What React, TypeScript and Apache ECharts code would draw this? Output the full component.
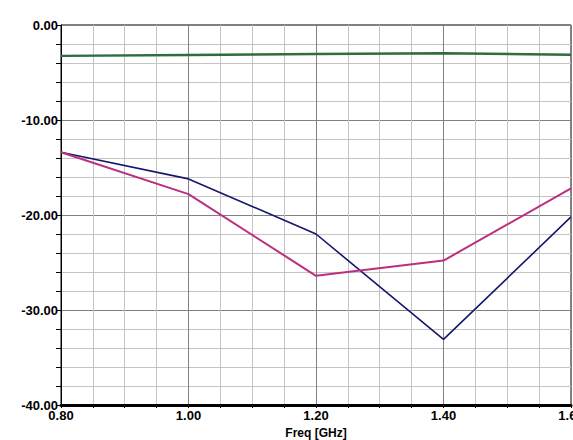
import React, { useEffect, useRef } from "react";
import * as echarts from "echarts";

const freqs = [0.8, 1.0, 1.2, 1.4, 1.6];
const greenValues = [-3.25, -3.15, -3.05, -2.97, -3.13];
const blueValues = [-13.4, -16.2, -22.0, -33.1, -20.2];
const magentaValues = [-13.4, -17.8, -26.4, -24.8, -17.2];

const pairs = (ys: number[]) => freqs.map((f, i) => [f, ys[i]]);

export default function App() {
  const ref = useRef<HTMLDivElement>(null);
  useEffect(() => {
    if (!ref.current) return;
    const chart = echarts.init(ref.current, undefined, { renderer: "svg" });
    const labelFont = {
      fontFamily: "Liberation Sans, Arial, sans-serif",
      fontWeight: "bold" as const,
      fontSize: 13,
      color: "#000",
    };
    chart.setOption({
      animation: false,
      backgroundColor: "#fff",
      grid: {
        left: 61,
        top: 25,
        right: 2,
        bottom: 35,
        containLabel: false,
        outerBoundsMode: "none",
        show: true,
        borderColor: "#000",
        borderWidth: 1,
        backgroundColor: "#fff",
      },
      xAxis: {
        type: "value",
        min: 0.8,
        max: 1.6,
        interval: 0.2,
        name: "Freq [GHz]",
        nameLocation: "middle",
        nameGap: 20,
        nameTextStyle: { ...labelFont, fontSize: 12 },
        axisLine: { show: true, onZero: false, lineStyle: { color: "#000", width: 3 } },
        axisTick: { show: true, length: 3, lineStyle: { color: "#000" } },
        minorTick: { show: true, splitNumber: 4, length: 3, lineStyle: { color: "#000" } },
        splitLine: { show: true, lineStyle: { color: "#808080", width: 1 } },
        minorSplitLine: { show: true, lineStyle: { color: "#c4c4c4", width: 1 } },
        axisLabel: {
          ...labelFont,
          margin: 4,
          hideOverlap: false,
          formatter: (v: number) => v.toFixed(2),
        },
      },
      yAxis: {
        type: "value",
        min: -40,
        max: 0,
        interval: 10,
        axisLine: { show: true, onZero: false, lineStyle: { color: "#000", width: 1 } },
        axisTick: { show: true, length: 5, lineStyle: { color: "#000" } },
        minorTick: { show: true, splitNumber: 5, length: 5, lineStyle: { color: "#000" } },
        splitLine: { show: true, lineStyle: { color: "#808080", width: 1 } },
        minorSplitLine: { show: true, lineStyle: { color: "#c4c4c4", width: 1 } },
        axisLabel: {
          ...labelFont,
          margin: 3,
          formatter: (v: number) => v.toFixed(2),
        },
      },
      series: [
        {
          type: "line",
          data: pairs(greenValues),
          symbol: "none",
          lineStyle: { color: "#2d6e3c", width: 2.5 },
        },
        {
          type: "line",
          data: pairs(blueValues),
          symbol: "none",
          lineStyle: { color: "#16166e", width: 1.6 },
        },
        {
          type: "line",
          data: pairs(magentaValues),
          symbol: "none",
          lineStyle: { color: "#bb2f7f", width: 2 },
        },
      ],
    });
    return () => chart.dispose();
  }, []);
  return (
    <div
      ref={ref}
      style={{ position: "absolute", left: 0, top: 0, width: 573, height: 440 }}
    />
  );
}
